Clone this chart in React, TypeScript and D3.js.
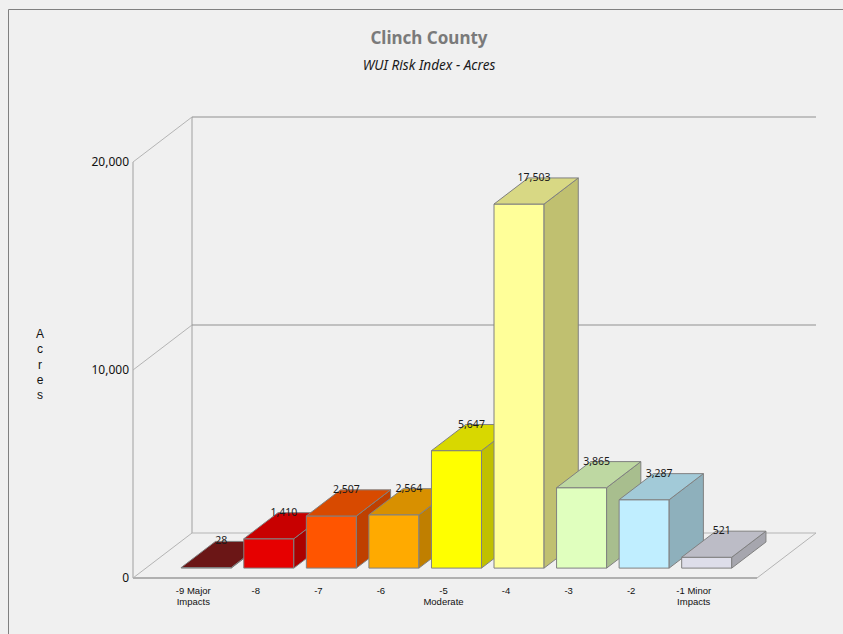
import React from "react";
import * as d3 from "d3";

const categories = ["-9", "-8", "-7", "-6", "-5", "-4", "-3", "-2", "-1"];
const categoryLabels = [
  ["-9 Major", "Impacts"],
  ["-8"],
  ["-7"],
  ["-6"],
  ["-5", "Moderate"],
  ["-4"],
  ["-3"],
  ["-2"],
  ["-1 Minor", "Impacts"],
];
const acres = [28, 1410, 2507, 2564, 5647, 17503, 3865, 3287, 521];
const frontColors = ["#6e1616", "#e60000", "#ff5500", "#ffaa00", "#ffff00", "#ffff99", "#e0ffbe", "#c0eeff", "#dedeea"];
const topColors = ["#6b1616", "#c80000", "#d84a00", "#d89000", "#d8d800", "#d8d884", "#bed8a2", "#a2cad8", "#bcbcc6"];
const sideColors = ["#5a1010", "#aa0000", "#bf4000", "#c07f00", "#c0c000", "#c0c070", "#a8be8e", "#8eb0bc", "#a6a6ae"];
const yTicks = [0, 10000, 20000];
const yTitle = "Acres";

const W = 843;
const H = 634;
const FONT = "'Noto Sans', 'Open Sans', sans-serif";
const SMALL_FONT = "'Liberation Sans', Arial, sans-serif";

export default function App() {
  const x0 = 133, x1 = 757;
  const yFront0 = 578, yFront20k = 162;
  const DX = 59, DY = -45;
  const zF = 0.22, zB = 0.8;

  const y = d3.scaleLinear().domain([0, 20000]).range([yFront0, yFront20k]);
  const xb = d3.scaleBand<string>().domain(categories).range([162, 725]).paddingInner(0.2).paddingOuter(0.1);

  const gridColor = "#a0a0a0";
  const fmt = d3.format(",");

  const ox = DX * zF, oy = DY * zF;
  const bx = DX * (zB - zF), by = DY * (zB - zF);

  return (
    <div style={{ position: "fixed", left: 0, top: 0, width: W, height: H, background: "#f0f0f0" }}>
      <svg width={W} height={H} style={{ display: "block" }} fontFamily={FONT}>
        <rect x={0} y={0} width={W} height={H} fill="#f0f0f0" />
        <line x1={8.5} y1={9.5} x2={W} y2={9.5} stroke="#808080" strokeWidth={1} />
        <line x1={8.5} y1={9.5} x2={8.5} y2={H} stroke="#808080" strokeWidth={1} />

        <text x={429} y={44} textAnchor="middle" fontSize={17} fontWeight="bold" fill="#7a7a7a">
          Clinch County
        </text>
        <text x={429} y={70} textAnchor="middle" fontSize={13.6} fontStyle="italic" fill="#1a1a1a">
          WUI Risk Index - Acres
        </text>

        <g fill="none" stroke={gridColor} strokeWidth={1}>
          <line x1={x0} y1={y(20000)} x2={x0} y2={yFront0} />
          <line x1={x0 + DX} y1={y(20000) + DY} x2={x0 + DX} y2={yFront0 + DY} />
          {yTicks.map((t) => (
            <g key={t}>
              <line x1={x0} y1={y(t)} x2={x0 + DX} y2={y(t) + DY} stroke="#b4b4b4" />
              <line x1={x0 + DX} y1={y(t) + DY} x2={x1 + DX} y2={y(t) + DY} stroke={t === 0 ? "#b4b4b4" : "#909090"} />
            </g>
          ))}
          <line x1={x1} y1={yFront0} x2={x1 + DX} y2={yFront0 + DY} stroke="#b4b4b4" />
          <line x1={x0} y1={yFront0} x2={x1} y2={yFront0} stroke="#b0b0b0" strokeWidth={2} />
        </g>

        {yTicks.map((t) => (
          <text key={t} x={129} y={y(t) + 4} textAnchor="end" fontSize={12} fill="#111">
            {fmt(t)}
          </text>
        ))}
        {yTitle.split("").map((ch, i) => (
          <text key={i} x={40} y={338 + i * 15.3} textAnchor="middle" fontSize={12} fontFamily={SMALL_FONT} fill="#111">
            {ch}
          </text>
        ))}

        {categories.map((c, i) => {
          const left = (xb(c) as number) + ox;
          const w = xb.bandwidth();
          const base = yFront0 + oy;
          const top = base - (yFront0 - y(acres[i]));
          const front = `M${left},${base}L${left + w},${base}L${left + w},${top}L${left},${top}Z`;
          const topFace = `M${left},${top}L${left + w},${top}L${left + w + bx},${top + by}L${left + bx},${top + by}Z`;
          const side = `M${left + w},${base}L${left + w + bx},${base + by}L${left + w + bx},${top + by}L${left + w},${top}Z`;
          return (
            <g key={c} strokeWidth={1} stroke="#808080" strokeLinejoin="round">
              <path d={front} fill={frontColors[i]} />
              <path d={side} fill={sideColors[i]} />
              <path d={topFace} fill={topColors[i]} />
            </g>
          );
        })}
        {categories.map((c, i) => {
          const left = (xb(c) as number) + ox;
          const w = xb.bandwidth();
          const base = yFront0 + oy;
          const top = base - (yFront0 - y(acres[i]));
          return (
            <text key={c} x={left + w / 2 + 15} y={top + by + 3} textAnchor="middle" fontSize={10.5} fill="#1a1a1a">
              {fmt(acres[i])}
            </text>
          );
        })}

        {categories.map((c, i) => {
          const cx = (xb(c) as number) + xb.bandwidth() / 2;
          return (
            <g key={c}>
              {categoryLabels[i].map((l, j) => (
                <text key={j} x={cx} y={594 + j * 11} textAnchor="middle" fontSize={9.5} fontFamily={SMALL_FONT} fill="#111">
                  {l}
                </text>
              ))}
            </g>
          );
        })}
      </svg>
    </div>
  );
}
